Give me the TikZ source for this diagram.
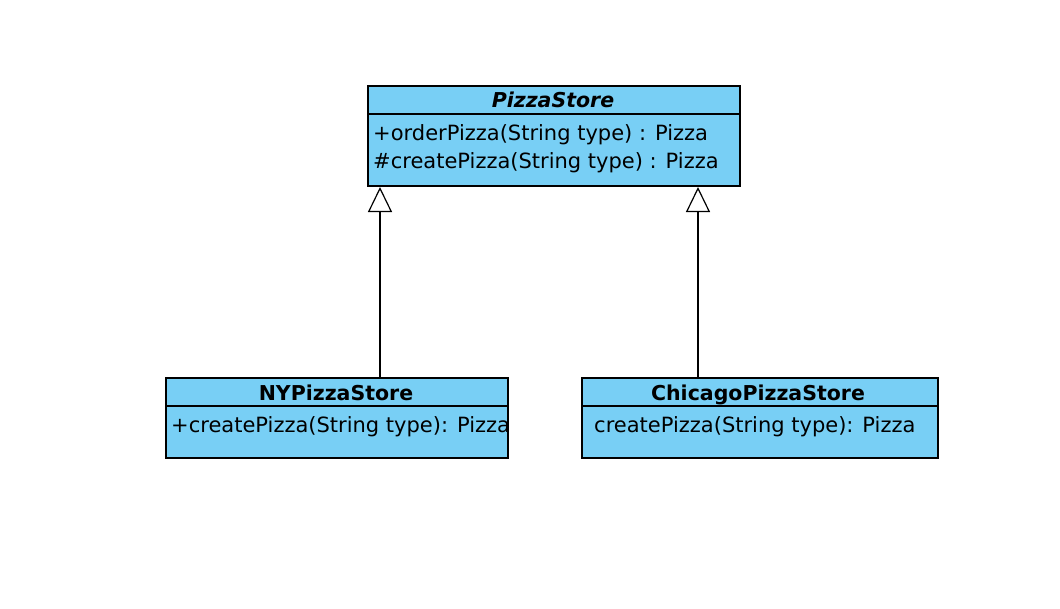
\documentclass[tikz,border=0pt]{standalone}
\usepackage{fontspec}
\setmainfont{DejaVu Sans}
\usetikzlibrary{arrows.meta}
\definecolor{classblue}{RGB}{120,207,245}
\newcommand{\umlclass}[6]{% #1: name, #2: x1, #3: y1, #4: x2, #5: y2, #6: divider y
	\draw[fill=classblue,line width=1.2pt] (#2,#3) rectangle (#4,#5);
	\draw[line width=1.2pt] (#2,#6) -- (#4,#6);
	\path (#2,#3) coordinate (#1 nw) (#4,#5) coordinate (#1 se);
}
\tikzset{
	member/.style={anchor=base west,inner sep=0pt,font=\fontsize{21}{25}\selectfont},
	title/.style={anchor=base,inner sep=0pt,font=\fontsize{20.5}{24}\selectfont\bfseries},
	inherit/.style={line width=1.2pt,-{Triangle[open,width=24pt,length=25pt,fill=white]}}
}
\begin{document}
\begin{tikzpicture}[x=1pt,y=-1pt]
	\useasboundingbox (0,0) rectangle (1060,608);
	
	% Classes
	\umlclass{store}{368}{86}{740}{186}{114}
	\umlclass{ny}{166}{378}{508}{458}{406}
	\umlclass{chicago}{582}{378}{938}{458}{406}
	
	% Texts
	\node[title] (storename) at (553,107) {\itshape PizzaStore};
	\node[member] (order) at (373,140) {+orderPizza(String type) : Pizza};
	\node[member] (create) at (373,168) {\#createPizza(String type) : Pizza};
	\node[title] (nyname) at (336,400) {NYPizzaStore};
	\node[member] (nycreate) at (171,432) {+createPizza(String type): Pizza};
	\node[title] (chicagoname) at (758,400) {ChicagoPizzaStore};
	\node[member] (chicagocreate) at (594,432) {createPizza(String type): Pizza};
	
	% Inheritance
	\coordinate (nytop) at (380,378);
	\coordinate (nytip) at (380,187);
	\coordinate (chicagotop) at (698,378);
	\coordinate (chicagotip) at (698,187);
	\draw[inherit] (nytop) -- (nytip);
	\draw[inherit] (chicagotop) -- (chicagotip);
\end{tikzpicture}
\end{document}
